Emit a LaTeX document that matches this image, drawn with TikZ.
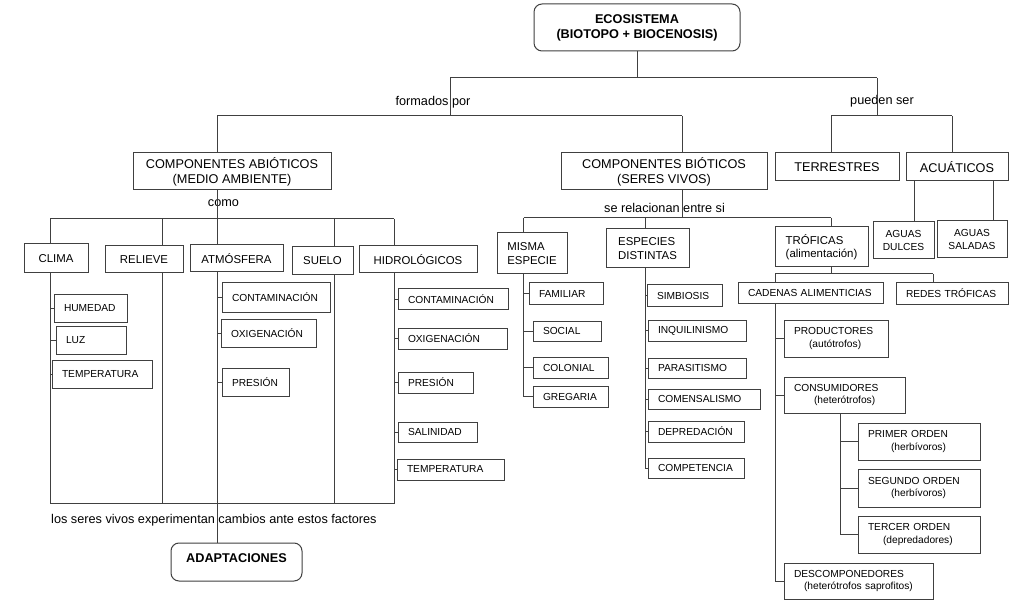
\documentclass[tikz,border=0pt]{standalone}
\usepackage{fontspec}
\setmainfont{Liberation Sans}
\usetikzlibrary{positioning}

\newcommand{\bigtxt}{\fontsize{12.7}{15}\selectfont}
\newcommand{\midtxt}{\fontsize{11.4}{13.5}\selectfont}
\newcommand{\smalltxt}{\fontsize{10.2}{12.3}\selectfont}

\tikzset{
    conn/.style={draw=black!75, line width=1pt},
    box/.style={draw=black!75, line width=1pt, fill=white, inner sep=0pt, align=center},
    bigbox/.style={box, font=\bigtxt},
    midbox/.style={box, font=\midtxt},
    cbox/.style={box, font=\smalltxt},
    sbox/.style={box, font=\smalltxt, align=left, inner xsep=10pt},
    roundbox/.style={box, rounded corners=8pt, font=\bigtxt\bfseries},
    lbl/.style={font=\bigtxt, inner sep=0pt}
}

\begin{document}
\begin{tikzpicture}[x=1pt,y=-1pt]
    \fill[white] (0,0) rectangle (1024,609);
    \useasboundingbox (0,0) rectangle (1024,609);

    % top
    \node[roundbox, minimum width=206pt, minimum height=47pt] (eco) at (637,27.5) {ECOSISTEMA\\(BIOTOPO + BIOCENOSIS)};
    \node[bigbox, minimum width=198pt, minimum height=37pt] (abio) at (232,171.5) {COMPONENTES ABIÓTICOS\\(MEDIO AMBIENTE)};
    \node[bigbox, minimum width=206pt, minimum height=37pt] (bio) at (664,171.5) {COMPONENTES BIÓTICOS\\(SERES VIVOS)};
    \node[bigbox, minimum width=124pt, minimum height=28pt] (terr) at (837,167) {TERRESTRES};
    \node[bigbox, minimum width=102pt, minimum height=28pt] (acua) at (957,167) {ACUÁTICOS};

    \node[lbl] (formados) at (433,102) {formados por};
    \node[lbl] (pueden) at (882,101) {pueden ser};

    \coordinate (j0) at (637,78);
    \coordinate (jform) at (450,78);
    \coordinate (jpued) at (877,78);
    \coordinate (jformb) at (450,116);
    \coordinate (jpuedb) at (877,116);
    \coordinate (jabio) at (217,116);
    \coordinate (jbio) at (682,116);
    \coordinate (jterr) at (831,116);
    \coordinate (jacua) at (952,116);

    \draw[conn] (eco.south) -- (j0);
    \draw[conn] (jform) -- (jpued);
    \draw[conn] (jform) -- (jformb);
    \draw[conn] (jpued) -- (jpuedb);
    \draw[conn] (jabio) -- (jbio);
    \draw[conn] (jterr) -- (jacua);
    \foreach \n/\j in {abio/jabio, bio/jbio, terr/jterr, acua/jacua}
        \draw[conn] (\j) -- (\j |- \n.north);

    % acuaticos
    \node[cbox, minimum width=61pt, minimum height=37pt] (dul) at (903.5,240.5) {AGUAS\\DULCES};
    \node[cbox, minimum width=70pt, minimum height=37pt] (sald) at (972,239.5) {AGUAS\\SALADAS};
    \coordinate (jdul) at (914,222);
    \coordinate (jsal) at (993,221);
    \draw[conn] (acua.south -| jdul) -- (jdul |- dul.north);
    \draw[conn] (acua.south -| jsal) -- (jsal |- sald.north);

    % abioticos
    \node[lbl] (como) at (223.5,203) {como};
    \node[midbox, minimum width=64pt, minimum height=29pt] (clima) at (56,258.5) {CLIMA};
    \node[midbox, minimum width=78pt, minimum height=27pt] (relieve) at (144,259.5) {RELIEVE};
    \node[midbox, minimum width=93pt, minimum height=27pt] (atm) at (236.5,258.5) {ATMÓSFERA};
    \node[midbox, minimum width=61pt, minimum height=28pt] (suelo) at (322.5,261) {SUELO};
    \node[midbox, minimum width=118pt, minimum height=27pt] (hidro) at (418,259.5) {HIDROLÓGICOS};

    \coordinate (jcomo) at (217,219);
    \coordinate (jclima) at (50,219);
    \coordinate (jrel) at (162,219);
    \coordinate (jsuelo) at (334,219);
    \coordinate (jhidro) at (394,219);
    \draw[conn] (abio.south -| jcomo) -- (jcomo);
    \draw[conn] (jclima) -- (jhidro);
    \foreach \n/\j in {clima/jclima, relieve/jrel, atm/jcomo, suelo/jsuelo, hidro/jhidro}
        \draw[conn] (\j) -- (\j |- \n.north);

    % clima
    \node[sbox, text width=53pt, minimum height=28pt] (hum) at (90.5,308) {HUMEDAD};
    \node[sbox, text width=50pt, minimum height=28pt] (luz) at (91,340) {LUZ};
    \node[sbox, text width=80pt, minimum height=28pt] (tmp1) at (102,374) {TEMPERATURA};

    % atmosfera
    \node[sbox, text width=88pt, minimum height=29pt] (con1) at (276,297.5) {CONTAMINACIÓN};
    \node[sbox, text width=75pt, minimum height=28pt] (oxi1) at (268.5,333) {OXIGENACIÓN};
    \node[sbox, text width=47pt, minimum height=28pt] (pre1) at (255.5,382) {PRESIÓN};

    % hidrologicos
    \node[sbox, text width=90pt, minimum height=20pt] (con2) at (453,299) {CONTAMINACIÓN};
    \node[sbox, text width=89pt, minimum height=21pt] (oxi2) at (452.5,338.5) {OXIGENACIÓN};
    \node[sbox, text width=55pt, minimum height=21pt] (pre2) at (435.5,382.5) {PRESIÓN};
    \node[sbox, text width=59pt, minimum height=20pt] (sal) at (437.5,432) {SALINIDAD};
    \node[sbox, text width=87pt, minimum height=21pt] (tmp2) at (450.5,469.5) {TEMPERATURA};

    % bottom line and adaptaciones
    \node[roundbox, minimum width=131pt, minimum height=38pt, text height=9pt, text depth=8pt] (adapt) at (236.5,562) {ADAPTACIONES};
    \node[lbl, anchor=west] (cambios) at (51,520) {los seres vivos experimentan cambios ante estos factores};

    \coordinate (bclima) at (50,503.5);
    \coordinate (brel) at (162,503.5);
    \coordinate (bsuelo) at (334,503.5);
    \coordinate (bhidro) at (394,503.5);
    \draw[conn] (bclima) -- (bhidro);
    \foreach \n/\b in {clima/bclima, relieve/brel, suelo/bsuelo, hidro/bhidro}
        \draw[conn] (\n.south -| \b) -- (\b);
    \draw[conn] (atm.south -| jcomo) -- (jcomo |- adapt.north);

    \foreach \n in {hum, luz, tmp1}
        \draw[conn] (\n.west) -- (\n.west -| bclima);
    \foreach \n in {con1, oxi1, pre1}
        \draw[conn] (\n.west) -- (\n.west -| jcomo);
    \foreach \n in {con2, oxi2, pre2, sal, tmp2}
        \draw[conn] (\n.west) -- (\n.west -| bhidro);

    % bioticos
    \node[lbl] (relac) at (664.5,208) {se relacionan entre si};
    \node[midbox, align=left, minimum width=70pt, minimum height=41pt] (misma) at (532,253.5) {MISMA\\ESPECIE};
    \node[midbox, align=left, minimum width=83pt, minimum height=39pt] (espdis) at (647.5,248.5) {ESPECIES\\DISTINTAS};
    \node[midbox, align=left, minimum width=93pt, minimum height=40pt] (trof) at (821.5,247) {TRÓFICAS\\(alimentación)};

    \coordinate (jrelac) at (682,218);
    \coordinate (jmis) at (523.5,218);
    \coordinate (jesp) at (645,218);
    \coordinate (jtrof) at (831,218);
    \draw[conn] (bio.south -| jrelac) -- (jrelac);
    \draw[conn] (jmis) -- (jtrof);
    \foreach \n/\j in {misma/jmis, espdis/jesp, trof/jtrof}
        \draw[conn] (\j) -- (\j |- \n.north);

    % misma especie
    \node[sbox, text width=54pt, minimum height=21pt] (fam) at (566,293.5) {FAMILIAR};
    \node[sbox, text width=48pt, minimum height=20pt] (soc) at (567,331) {SOCIAL};
    \node[sbox, text width=55pt, minimum height=21pt] (col) at (570.5,367.5) {COLONIAL};
    \node[sbox, text width=55pt, minimum height=21pt] (greg) at (570.5,396.5) {GREGARIA};
    \draw[conn] (misma.south -| jmis) -- (jmis |- greg.west) -- (greg.west);
    \foreach \n in {fam, soc, col}
        \draw[conn] (\n.west) -- (\n.west -| jmis);

    % especies distintas
    \node[sbox, text width=55pt, minimum height=21pt] (sim) at (684.5,295.5) {SIMBIOSIS};
    \node[sbox, text width=78pt, minimum height=21pt] (inq) at (697,330.5) {INQUILINISMO};
    \node[sbox, text width=78pt, minimum height=20pt] (par) at (697,368) {PARASITISMO};
    \node[sbox, text width=92pt, minimum height=20pt] (com) at (704,399) {COMENSALISMO};
    \node[sbox, text width=76pt, minimum height=21pt] (dep) at (696,431.5) {DEPREDACIÓN};
    \node[sbox, text width=76pt, minimum height=20pt] (cpt) at (696,468) {COMPETENCIA};
    \draw[conn] (espdis.south -| jesp) -- (jesp |- cpt.west) -- (cpt.west);
    \foreach \n in {sim, inq, par, com, dep}
        \draw[conn] (\n.west) -- (\n.west -| jesp);

    % troficas
    \node[sbox, text width=125pt, minimum height=20pt] (cad) at (810.5,293) {CADENAS ALIMENTICIAS};
    \node[sbox, text width=92pt, minimum height=21pt] (redes) at (952,293.5) {REDES TRÓFICAS};
    \coordinate (jtb) at (831,274);
    \coordinate (jcad) at (775,274);
    \coordinate (jred) at (933,274);
    \draw[conn] (trof.south -| jtb) -- (jtb);
    \draw[conn] (jcad) -- (jred);
    \draw[conn] (jcad) -- (jcad |- cad.north);
    \draw[conn] (jred) -- (jred |- redes.north);

    % cadenas alimenticias
    \node[sbox, text width=84pt, minimum height=37pt] (prod) at (836,338.5) {PRODUCTORES\\\hspace*{15pt}(autótrofos)};
    \node[sbox, text width=101pt, minimum height=36pt] (cons) at (844.5,395) {CONSUMIDORES\\\hspace*{20pt}(heterótrofos)};
    \node[sbox, text width=129pt, minimum height=36pt] (desc) at (858.5,581) {DESCOMPONEDORES\\\hspace*{10pt}(heterótrofos saprofitos)};
    \draw[conn] (cad.south -| jcad) -- (jcad |- desc.west) -- (desc.west);
    \foreach \n in {prod, cons}
        \draw[conn] (\n.west) -- (\n.west -| jcad);

    % consumidores
    \node[sbox, text width=102pt, minimum height=37pt] (prim) at (919,441.5) {PRIMER ORDEN\\\hspace*{23pt}(herbívoros)};
    \node[sbox, text width=102pt, minimum height=38pt] (seg) at (919,488) {SEGUNDO ORDEN\\\hspace*{23pt}(herbívoros)};
    \node[sbox, text width=102pt, minimum height=37pt] (terc) at (919,534.5) {TERCER ORDEN\\\hspace*{15pt}(depredadores)};
    \coordinate (jcons) at (840,543);
    \draw[conn] (cons.south -| jcons) -- (jcons |- terc.west) -- (terc.west);
    \foreach \n in {prim, seg}
        \draw[conn] (\n.west) -- (\n.west -| jcons);
\end{tikzpicture}
\end{document}
